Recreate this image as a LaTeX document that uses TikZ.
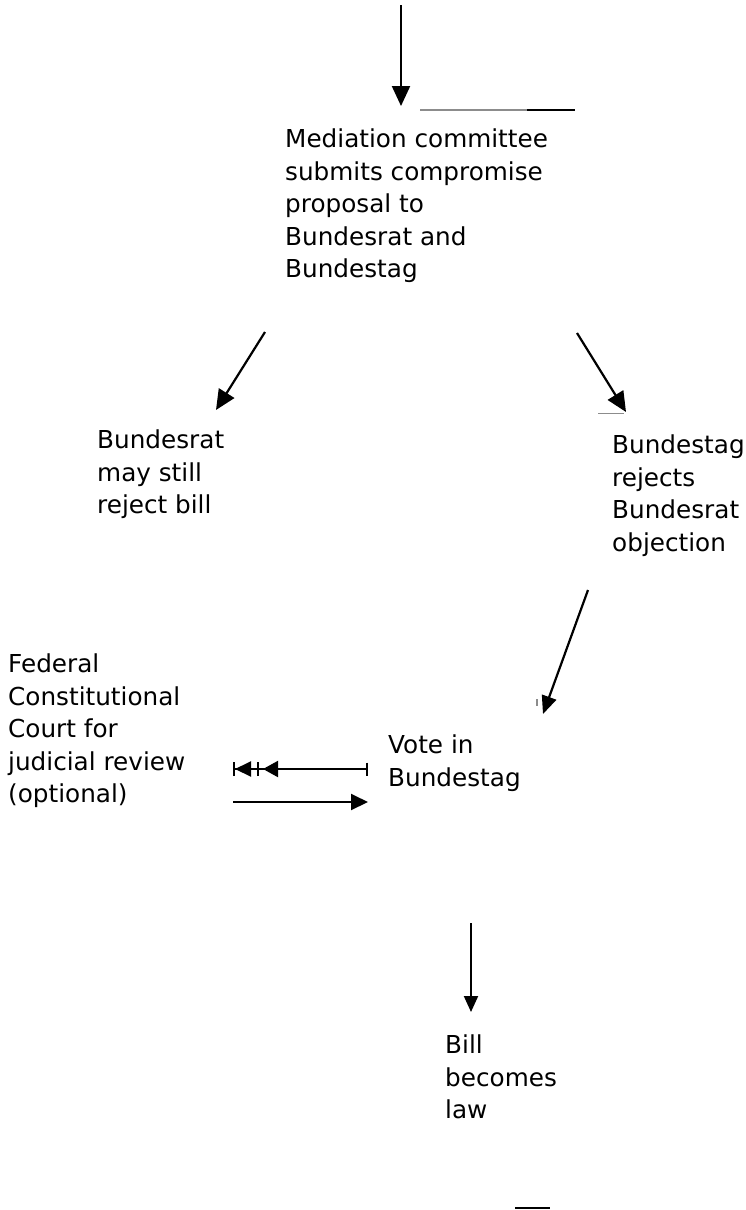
\documentclass[tikz,border=0pt]{standalone}
\usepackage{fontspec}
\setmainfont{DejaVu Sans}
\usetikzlibrary{arrows.meta,positioning}
\tikzset{
  stagebox/.style={inner sep=0pt,align=left,anchor=north west,
                   font=\fontsize{24.7}{32.5}\selectfont},
  flowarrow/.style={line width=2.2pt,-{Triangle[length=20pt,width=18pt]}},
  thinarrow/.style={line width=2pt},
  smalltip/.tip={Triangle[length=17pt,width=16pt]},
  scrap/.style={line width=1.6pt,black!45}
}
\begin{document}
\begin{tikzpicture}[x=1pt,y=-1pt]
\useasboundingbox (0,0) rectangle (745,1210);

% stages of the procedure
\node[stagebox] (mediation) at (285,129) {Mediation committee\\submits compromise\\proposal to\\Bundesrat and\\Bundestag};
\node[stagebox] (rejectrat) at (97,430) {Bundesrat\\may still\\reject bill};
\node[stagebox] (rejecttag) at (612,435) {Bundestag\\rejects\\Bundesrat\\objection};
\node[stagebox] (court) at (8,654) {Federal\\Constitutional\\Court for\\judicial review\\(optional)};
\node[stagebox] (vote) at (388,735) {Vote in\\Bundestag};
\node[stagebox] (law) at (445,1035) {Bill\\becomes\\law};

% free ends of the connectors
\coordinate (in-top) at (401,5);
\coordinate (in-tip) at (401,106);
\coordinate (med-l) at (265,332);
\coordinate (rat-in) at (216,410);
\coordinate (med-r) at (577,333);
\coordinate (tag-in) at (626,412);
\coordinate (tag-out) at (588,590);
\coordinate (vote-in) at (543,714);
\coordinate (vote-w1) at (368,769);
\coordinate (court-e1) at (233,769);
\coordinate (court-e2) at (233,802);
\coordinate (vote-w2) at (368,802);
\coordinate (vote-out) at (471,923);
\coordinate (law-in) at (471,1012);

% connectors
\draw[flowarrow] (in-top) -- (in-tip);
\draw[flowarrow] (med-l) -- (rat-in);
\draw[flowarrow] (med-r) -- (tag-in);
\draw[flowarrow,-{Triangle[length=18pt,width=15pt]}] (tag-out) -- (vote-in);
\draw[thinarrow,{Bar[width=13pt]}-{Triangle[length=15pt,width=16pt,sep=4pt] Bar[width=14pt,sep=6pt] Triangle[length=16pt,width=15pt] Bar[width=14pt]}] (vote-w1) -- (court-e1);
\draw[thinarrow,-{smalltip[]}] (court-e2) -- (vote-w2);
\draw[thinarrow,-{Triangle[length=16pt,width=14pt]}] (vote-out) -- (law-in);

% stray marks of the scan
\draw[scrap] (420,110) -- (527,110);
\draw[line width=1.6pt] (527,110) -- (575,110);
\draw[scrap,line width=0.8pt] (598,413) -- (624,413);
\draw[scrap,line width=1.8pt] (537,699) -- (537,706);
\draw[line width=1.6pt] (515,1208) -- (550,1208);
\end{tikzpicture}
\end{document}
